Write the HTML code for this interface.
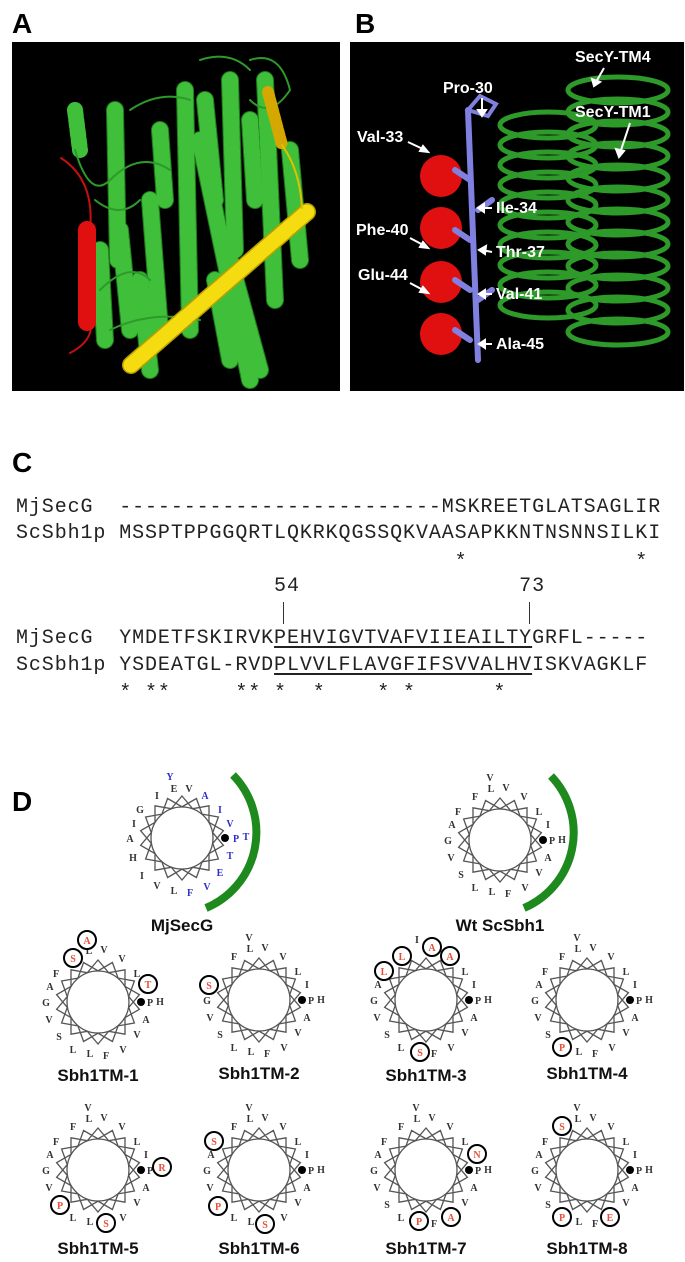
<!DOCTYPE html>
<html><head><meta charset="utf-8"><style>
body{margin:0;background:#fff;width:685px;height:1262px;position:relative;overflow:hidden;font-family:"Liberation Sans",sans-serif}
.pl{position:absolute;font-weight:bold;font-size:28px;font-family:"Liberation Sans",sans-serif;color:#000}
.sq{position:absolute;left:16px;font-family:"Liberation Mono",monospace;font-size:20px;letter-spacing:0.9px;white-space:pre;line-height:26px;color:#222}
.sq u{text-decoration:underline;text-underline-offset:3px}
</style></head><body>
<div class="pl" style="left:12px;top:8px">A</div>
<div class="pl" style="left:355px;top:8px">B</div>
<div class="pl" style="left:12px;top:447px">C</div>
<div class="pl" style="left:12px;top:786px">D</div>

<svg style="position:absolute;left:0;top:0" width="685" height="400">
<rect x="12" y="42" width="328" height="349" fill="#000"/>
<rect x="350" y="42" width="334" height="349" fill="#000"/>
<g fill="none" stroke-linecap="round">
<g stroke="#1f7a1c" stroke-width="18">
<path d="M115 110 L118 260"/><path d="M185 90 L190 330"/><path d="M200 140 L250 380"/><path d="M230 80 L235 250"/>
<path d="M265 80 L275 300"/><path d="M150 200 L160 330"/><path d="M120 230 L130 330"/><path d="M230 260 L260 370"/><path d="M290 150 L300 260"/>
<path d="M100 250 L105 340"/><path d="M140 280 L150 370"/><path d="M205 100 L215 200"/><path d="M160 130 L165 200"/><path d="M250 120 L255 200"/><path d="M215 280 L230 360"/>
</g>
<g stroke="#3fbf3a" stroke-width="16" stroke-dasharray="6 4">
<path d="M115 110 L118 260"/><path d="M185 90 L190 330"/><path d="M200 140 L250 380"/><path d="M230 80 L235 250"/>
<path d="M265 80 L275 300"/><path d="M150 200 L160 330"/><path d="M120 230 L130 330"/><path d="M230 260 L260 370"/><path d="M290 150 L300 260"/>
<path d="M100 250 L105 340"/><path d="M140 280 L150 370"/><path d="M205 100 L215 200"/><path d="M160 130 L165 200"/><path d="M250 120 L255 200"/><path d="M215 280 L230 360"/>
<path d="M75 110 L80 150"/>
</g>
<g stroke="#2e9a2a" stroke-width="2">
<path d="M75 150 Q90 200 110 180 Q140 150 170 170"/><path d="M250 60 Q280 50 290 90 Q270 120 250 100"/><path d="M110 330 Q150 310 200 320"/><path d="M100 290 Q130 260 150 280"/>
<path d="M130 110 Q160 90 190 100"/><path d="M200 60 Q230 50 250 70"/><path d="M95 200 Q120 220 140 200"/>
</g>
<path d="M61 158 Q95 180 90 230" stroke="#c41010" stroke-width="2"/>
<path d="M90 320 Q95 340 70 353" stroke="#c41010" stroke-width="2"/>
<path d="M87 230 L87 322" stroke="#e01010" stroke-width="18" stroke-dasharray="9 2"/>
<path d="M131 365 L307 212" stroke="#b8a000" stroke-width="18"/>
<path d="M131 365 L307 212" stroke="#f5dc10" stroke-width="15" stroke-dasharray="8 3"/>
<path d="M268 92 L282 145" stroke="#d4a800" stroke-width="12" stroke-dasharray="5 3"/>
<path d="M282 145 Q300 170 302 208" stroke="#e0c000" stroke-width="2"/>
</g>
<g fill="none" stroke="#2d9a2a" stroke-width="5">
<ellipse cx="548" cy="125" rx="48" ry="13"/><ellipse cx="548" cy="145" rx="48" ry="13"/><ellipse cx="548" cy="165" rx="48" ry="13"/><ellipse cx="548" cy="185" rx="48" ry="13"/><ellipse cx="548" cy="205" rx="48" ry="13"/><ellipse cx="548" cy="225" rx="48" ry="13"/><ellipse cx="548" cy="245" rx="48" ry="13"/><ellipse cx="548" cy="265" rx="48" ry="13"/><ellipse cx="548" cy="285" rx="48" ry="13"/><ellipse cx="548" cy="305" rx="48" ry="13"/>
<ellipse cx="618" cy="90" rx="50" ry="13"/><ellipse cx="618" cy="112" rx="50" ry="13"/><ellipse cx="618" cy="134" rx="50" ry="13"/><ellipse cx="618" cy="156" rx="50" ry="13"/><ellipse cx="618" cy="178" rx="50" ry="13"/><ellipse cx="618" cy="200" rx="50" ry="13"/><ellipse cx="618" cy="222" rx="50" ry="13"/><ellipse cx="618" cy="244" rx="50" ry="13"/><ellipse cx="618" cy="266" rx="50" ry="13"/><ellipse cx="618" cy="288" rx="50" ry="13"/><ellipse cx="618" cy="310" rx="50" ry="13"/><ellipse cx="618" cy="332" rx="50" ry="13"/>
</g>
<g fill="#e01010"><circle cx="441" cy="176" r="21"/><circle cx="441" cy="228" r="21"/><circle cx="441" cy="282" r="21"/><circle cx="441" cy="334" r="21"/></g>
<g stroke="#8080e0" stroke-width="6" fill="none" stroke-linecap="round">
<path d="M468 110 L478 360"/><path d="M468 110 L480 96 L496 104 L488 116 Z" stroke-width="4"/>
<path d="M478 210 L492 200"/><path d="M478 300 L492 290"/><path d="M455 170 L470 180"/><path d="M455 230 L470 240"/><path d="M455 280 L470 290"/><path d="M455 330 L470 340"/>
</g>
<g fill="#fff" font-family="Liberation Sans,sans-serif" font-weight="bold" font-size="16">
<text x="443" y="93">Pro-30</text><text x="357" y="142">Val-33</text><text x="496" y="213">Ile-34</text>
<text x="356" y="235">Phe-40</text><text x="496" y="257">Thr-37</text><text x="358" y="280">Glu-44</text>
<text x="496" y="299">Val-41</text><text x="496" y="349">Ala-45</text>
<text x="575" y="62">SecY-TM4</text><text x="575" y="117">SecY-TM1</text>
</g>
<g stroke="#fff" stroke-width="2" fill="#fff">
<path d="M482 98 L482 114"/><path d="M478 110 L482 116 L486 110Z"/>
<path d="M408 142 L425 150"/><path d="M420 151 L428 152 L423 146Z"/>
<path d="M492 208 L480 208"/><path d="M484 204 L478 208 L484 212Z"/>
<path d="M410 238 L425 246"/><path d="M420 247 L428 248 L423 242Z"/>
<path d="M492 252 L482 250"/><path d="M486 246 L479 250 L485 254Z"/>
<path d="M410 283 L425 291"/><path d="M420 292 L428 293 L423 287Z"/>
<path d="M492 294 L481 294"/><path d="M485 290 L479 294 L485 298Z"/>
<path d="M492 344 L481 344"/><path d="M485 340 L479 344 L485 348Z"/>
<path d="M604 68 L596 82"/><path d="M592 79 L594 86 L600 82Z"/>
<path d="M630 123 L620 153"/><path d="M616 149 L619 157 L624 151Z"/>
</g>
</svg>

<div class="sq" style="top:495px">MjSecG  -------------------------MSKREETGLATSAGLIR</div>
<div class="sq" style="top:521px">ScSbh1p MSSPTPPGGQRTLQKRKQGSSQKVAASAPKKNTNSNNSILKI</div>
<div class="sq" style="top:550px">                                  *             *</div>
<div class="sq" style="top:574px">                    54                 73</div>
<div style="position:absolute;left:283px;top:602px;width:1px;height:22px;background:#333"></div>
<div style="position:absolute;left:529px;top:602px;width:1px;height:22px;background:#333"></div>
<div class="sq" style="top:626px">MjSecG  YMDETFSKIRVK<u>PEHVIGVTVAFVIIEAILTY</u>GRFL-----</div>
<div class="sq" style="top:653px">ScSbh1p YSDEATGL-RVD<u>PLVVLFLAVGFIFSVVALHV</u>ISKVAGKLF</div>
<div class="sq" style="top:681px">        * **     ** *  *    * *      *</div>

<svg style="position:absolute;left:0;top:760px" width="685" height="502" viewBox="0 760 685 502">
<defs>
<g id="wh">
<polygon points="0,-42 41.4,7.3 -14.4,39.5 -36.4,-21 27,-32.2 27,32.2 -36.4,21 -14.4,-39.5 41.4,-7.3 0,42 -41.4,-7.3 14.4,-39.5 36.4,21 -27,32.2 -27,-32.2 36.4,-21 14.4,39.5 -41.4,7.3" fill="none" stroke="#555" stroke-width="1.3"/>
<circle r="31" fill="#fff" stroke="#555" stroke-width="1.3"/>
<circle cx="43" cy="0" r="4" fill="#000"/>
</g>
</defs>
<g font-family="Liberation Serif,serif" font-weight="bold" font-size="10" text-anchor="middle" fill="#333">
<g transform="translate(182,838)"><use href="#wh"/>
<text x="-12" y="-58" fill="#3030c8">Y</text><text x="-8" y="-46">E</text><text x="7" y="-46">V</text><text x="-25" y="-39">I</text><text x="23" y="-39" fill="#3030c8">A</text><text x="-42" y="-25">G</text><text x="38" y="-25" fill="#3030c8">I</text><text x="-48" y="-11">I</text><text x="48" y="-11" fill="#3030c8">V</text><text x="-52" y="4">A</text><text x="54" y="4" fill="#3030c8">P</text><text x="64" y="2" fill="#3030c8">T</text><text x="-49" y="23">H</text><text x="48" y="21" fill="#3030c8">T</text><text x="-40" y="41">I</text><text x="38" y="38" fill="#3030c8">E</text><text x="-25" y="51">V</text><text x="25" y="52" fill="#3030c8">V</text><text x="-8" y="56">L</text><text x="8" y="58" fill="#3030c8">F</text>
</g>
<path d="M233 775 A82 82 0 0 1 206 908" fill="none" stroke="#1e8a1e" stroke-width="8"/>
<g transform="translate(500,840)"><use href="#wh"/>
<text x="-10" y="-59">V</text><text x="-9" y="-48">L</text><text x="6" y="-49">V</text><text x="24" y="-40">V</text><text x="-25" y="-40">F</text><text x="39" y="-25">L</text><text x="-42" y="-25">F</text><text x="48" y="-12">I</text><text x="-48" y="-12">A</text><text x="-52" y="4">G</text><text x="52" y="4">P</text><text x="62" y="3">H</text><text x="48" y="21">A</text><text x="-49" y="21">V</text><text x="39" y="36">V</text><text x="-39" y="38">S</text><text x="-25" y="51">L</text><text x="25" y="51">V</text><text x="-8" y="55">L</text><text x="8" y="57">F</text>
</g>
<path d="M551 776 A82 82 0 0 1 524 908" fill="none" stroke="#1e8a1e" stroke-width="8"/>
</g>
<g font-family="Liberation Sans,sans-serif" font-weight="bold" font-size="17" text-anchor="middle" fill="#111">
<text x="182" y="931">MjSecG</text><text x="500" y="931">Wt ScSbh1</text>
<text x="98" y="1081">Sbh1TM-1</text><text x="259" y="1079">Sbh1TM-2</text><text x="426" y="1081">Sbh1TM-3</text><text x="587" y="1079">Sbh1TM-4</text>
<text x="98" y="1254">Sbh1TM-5</text><text x="259" y="1254">Sbh1TM-6</text><text x="426" y="1254">Sbh1TM-7</text><text x="587" y="1254">Sbh1TM-8</text>
</g>
<g font-family="Liberation Serif,serif" font-weight="bold" font-size="10" text-anchor="middle" fill="#333">
<g transform="translate(98,1002)"><use href="#wh"/>
<text x="-9" y="-48">L</text><text x="6" y="-49">V</text><text x="24" y="-40">V</text><text x="39" y="-25">L</text><text x="-42" y="-25">F</text><text x="-48" y="-12">A</text><text x="-52" y="4">G</text><text x="52" y="4">P</text><text x="62" y="3">H</text><text x="48" y="21">A</text><text x="-49" y="21">V</text><text x="39" y="36">V</text><text x="-39" y="38">S</text><text x="-25" y="51">L</text><text x="25" y="51">V</text><text x="-8" y="55">L</text><text x="8" y="57">F</text>
<g fill="#e8503a"><circle cx="-11" cy="-62" r="9" fill="#fff" stroke="#000" stroke-width="2"/><text x="-11" y="-58">A</text><circle cx="-25" cy="-44" r="9" fill="#fff" stroke="#000" stroke-width="2"/><text x="-25" y="-40">S</text><circle cx="50" cy="-18" r="9" fill="#fff" stroke="#000" stroke-width="2"/><text x="50" y="-14">T</text></g>
</g>
<g transform="translate(259,1000)"><use href="#wh"/>
<text x="-10" y="-59">V</text><text x="-9" y="-48">L</text><text x="6" y="-49">V</text><text x="24" y="-40">V</text><text x="-25" y="-40">F</text><text x="39" y="-25">L</text><text x="48" y="-12">I</text><text x="-52" y="4">G</text><text x="52" y="4">P</text><text x="62" y="3">H</text><text x="48" y="21">A</text><text x="-49" y="21">V</text><text x="39" y="36">V</text><text x="-39" y="38">S</text><text x="-25" y="51">L</text><text x="25" y="51">V</text><text x="-8" y="55">L</text><text x="8" y="57">F</text>
<g fill="#e8503a"><circle cx="-50" cy="-15" r="9" fill="#fff" stroke="#000" stroke-width="2"/><text x="-50" y="-11">S</text></g>
</g>
<g transform="translate(426,1000)"><use href="#wh"/>
<text x="-9" y="-57">I</text><text x="39" y="-25">L</text><text x="48" y="-12">I</text><text x="-48" y="-12">A</text><text x="-52" y="4">G</text><text x="52" y="4">P</text><text x="62" y="3">H</text><text x="48" y="21">A</text><text x="-49" y="21">V</text><text x="39" y="36">V</text><text x="-39" y="38">S</text><text x="-25" y="51">L</text><text x="25" y="51">V</text><text x="8" y="57">F</text>
<g fill="#e8503a"><circle cx="-42" cy="-29" r="9" fill="#fff" stroke="#000" stroke-width="2"/><text x="-42" y="-25">L</text><circle cx="-24" cy="-44" r="9" fill="#fff" stroke="#000" stroke-width="2"/><text x="-24" y="-40">L</text><circle cx="6" cy="-53" r="9" fill="#fff" stroke="#000" stroke-width="2"/><text x="6" y="-49">A</text><circle cx="24" cy="-44" r="9" fill="#fff" stroke="#000" stroke-width="2"/><text x="24" y="-40">A</text><circle cx="-6" cy="52" r="9" fill="#fff" stroke="#000" stroke-width="2"/><text x="-6" y="56">S</text></g>
</g>
<g transform="translate(587,1000)"><use href="#wh"/>
<text x="-10" y="-59">V</text><text x="-9" y="-48">L</text><text x="6" y="-49">V</text><text x="24" y="-40">V</text><text x="-25" y="-40">F</text><text x="39" y="-25">L</text><text x="-42" y="-25">F</text><text x="48" y="-12">I</text><text x="-48" y="-12">A</text><text x="-52" y="4">G</text><text x="52" y="4">P</text><text x="62" y="3">H</text><text x="48" y="21">A</text><text x="-49" y="21">V</text><text x="39" y="36">V</text><text x="-39" y="38">S</text><text x="25" y="51">V</text><text x="-8" y="55">L</text><text x="8" y="57">F</text>
<g fill="#e8503a"><circle cx="-25" cy="47" r="9" fill="#fff" stroke="#000" stroke-width="2"/><text x="-25" y="51">P</text></g>
</g>
<g transform="translate(98,1170)"><use href="#wh"/>
<text x="-10" y="-59">V</text><text x="-9" y="-48">L</text><text x="6" y="-49">V</text><text x="24" y="-40">V</text><text x="-25" y="-40">F</text><text x="39" y="-25">L</text><text x="-42" y="-25">F</text><text x="48" y="-12">I</text><text x="-48" y="-12">A</text><text x="-52" y="4">G</text><text x="52" y="4">P</text><text x="48" y="21">A</text><text x="-49" y="21">V</text><text x="39" y="36">V</text><text x="-25" y="51">L</text><text x="25" y="51">V</text><text x="-8" y="55">L</text>
<g fill="#e8503a"><circle cx="64" cy="-3" r="9" fill="#fff" stroke="#000" stroke-width="2"/><text x="64" y="1">R</text><circle cx="-38" cy="35" r="9" fill="#fff" stroke="#000" stroke-width="2"/><text x="-38" y="39">P</text><circle cx="8" cy="53" r="9" fill="#fff" stroke="#000" stroke-width="2"/><text x="8" y="57">S</text></g>
</g>
<g transform="translate(259,1170)"><use href="#wh"/>
<text x="-10" y="-59">V</text><text x="-9" y="-48">L</text><text x="6" y="-49">V</text><text x="24" y="-40">V</text><text x="-25" y="-40">F</text><text x="39" y="-25">L</text><text x="48" y="-12">I</text><text x="-48" y="-12">A</text><text x="-52" y="4">G</text><text x="52" y="4">P</text><text x="62" y="3">H</text><text x="48" y="21">A</text><text x="-49" y="21">V</text><text x="39" y="36">V</text><text x="-25" y="51">L</text><text x="25" y="51">V</text><text x="-8" y="55">L</text>
<g fill="#e8503a"><circle cx="-45" cy="-29" r="9" fill="#fff" stroke="#000" stroke-width="2"/><text x="-45" y="-25">S</text><circle cx="-41" cy="36" r="9" fill="#fff" stroke="#000" stroke-width="2"/><text x="-41" y="40">P</text><circle cx="6" cy="54" r="9" fill="#fff" stroke="#000" stroke-width="2"/><text x="6" y="58">S</text></g>
</g>
<g transform="translate(426,1170)"><use href="#wh"/>
<text x="-10" y="-59">V</text><text x="-9" y="-48">L</text><text x="6" y="-49">V</text><text x="24" y="-40">V</text><text x="-25" y="-40">F</text><text x="39" y="-25">L</text><text x="-42" y="-25">F</text><text x="-48" y="-12">A</text><text x="-52" y="4">G</text><text x="52" y="4">P</text><text x="62" y="3">H</text><text x="48" y="21">A</text><text x="-49" y="21">V</text><text x="39" y="36">V</text><text x="-39" y="38">S</text><text x="-25" y="51">L</text><text x="8" y="57">F</text>
<g fill="#e8503a"><circle cx="51" cy="-16" r="9" fill="#fff" stroke="#000" stroke-width="2"/><text x="51" y="-12">N</text><circle cx="-7" cy="51" r="9" fill="#fff" stroke="#000" stroke-width="2"/><text x="-7" y="55">P</text><circle cx="25" cy="47" r="9" fill="#fff" stroke="#000" stroke-width="2"/><text x="25" y="51">A</text></g>
</g>
<g transform="translate(587,1170)"><use href="#wh"/>
<text x="-10" y="-59">V</text><text x="-9" y="-48">L</text><text x="6" y="-49">V</text><text x="24" y="-40">V</text><text x="39" y="-25">L</text><text x="-42" y="-25">F</text><text x="48" y="-12">I</text><text x="-48" y="-12">A</text><text x="-52" y="4">G</text><text x="52" y="4">P</text><text x="62" y="3">H</text><text x="48" y="21">A</text><text x="-49" y="21">V</text><text x="39" y="36">V</text><text x="-39" y="38">S</text><text x="-8" y="55">L</text><text x="8" y="57">F</text>
<g fill="#e8503a"><circle cx="-25" cy="-44" r="9" fill="#fff" stroke="#000" stroke-width="2"/><text x="-25" y="-40">S</text><circle cx="-25" cy="47" r="9" fill="#fff" stroke="#000" stroke-width="2"/><text x="-25" y="51">P</text><circle cx="23" cy="47" r="9" fill="#fff" stroke="#000" stroke-width="2"/><text x="23" y="51">E</text></g>
</g>
</g>
</svg>
</body></html>
